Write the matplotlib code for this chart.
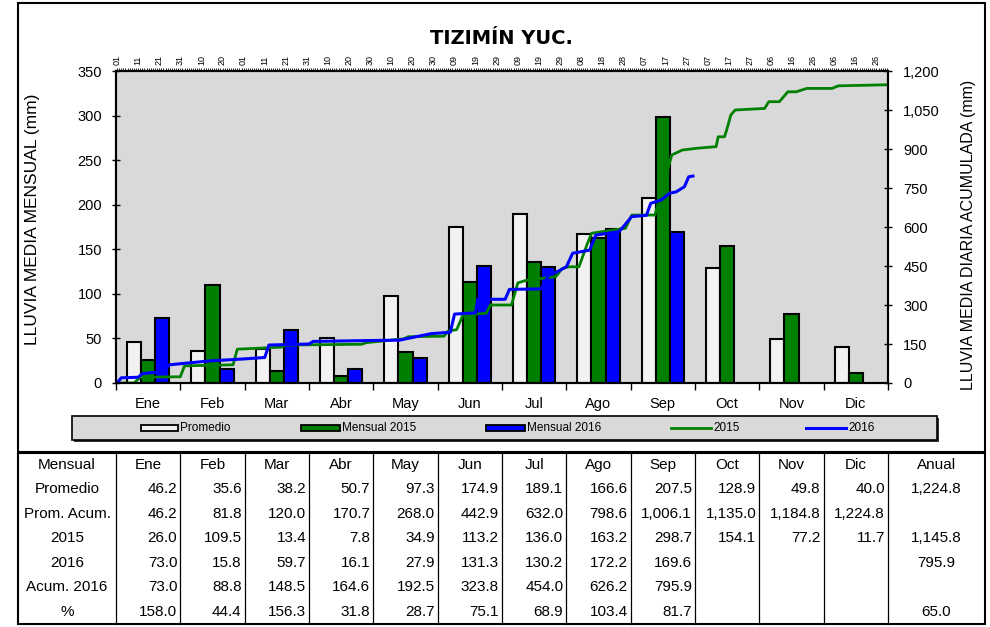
import numpy as np
import matplotlib
matplotlib.use("Agg")
import matplotlib.pyplot as plt
from matplotlib.patches import Rectangle

plt.rcParams['font.family'] = ['Liberation Sans', 'DejaVu Sans']

# datos mensuales (mm)
meses = ['Ene', 'Feb', 'Mar', 'Abr', 'May', 'Jun', 'Jul', 'Ago', 'Sep', 'Oct', 'Nov', 'Dic']
promedio = [46.2, 35.6, 38.2, 50.7, 97.3, 174.9, 189.1, 166.6, 207.5, 128.9, 49.8, 40.0]
prom_acum = [46.2, 81.8, 120.0, 170.7, 268.0, 442.9, 632.0, 798.6, 1006.1, 1135.0, 1184.8, 1224.8]
mensual_2015 = [26.0, 109.5, 13.4, 7.8, 34.9, 113.2, 136.0, 163.2, 298.7, 154.1, 77.2, 11.7]
mensual_2016 = [73.0, 15.8, 59.7, 16.1, 27.9, 131.3, 130.2, 172.2, 169.6, None, None, None]
acum_2016 = [73.0, 88.8, 148.5, 164.6, 192.5, 323.8, 454.0, 626.2, 795.9, None, None, None]
porcentaje = [158.0, 44.4, 156.3, 31.8, 28.7, 75.1, 68.9, 103.4, 81.7, None, None, None]
anual = [1224.8, None, 1145.8, 795.9, None, 65.0]

# lluvia diaria acumulada (dia del año, mm)
dias_2015 = [1, 9, 12, 31, 33, 56, 58, 79, 81, 117, 119, 137, 139, 156, 158, 162, 165, 176,
             178, 188, 191, 195, 209, 212, 215, 220, 224, 226, 242, 245, 256, 264, 269, 276,
             285, 286, 289, 290, 292, 294, 308, 310, 315, 319, 323, 328, 340, 343, 366]
lluvia_acum_2015 = [0, 0, 22, 24, 66, 70, 130, 138, 146, 149, 155, 170, 178, 180, 200, 205, 262, 268,
                    300, 300, 385, 395, 409, 440, 447, 447, 537, 576, 595, 646, 646, 877, 896, 903,
                    909, 947, 947, 973, 1031, 1050, 1056, 1082, 1082, 1120, 1120, 1133, 1133, 1143, 1147]
dias_2016 = [1, 3, 11, 13, 18, 22, 26, 32, 45, 60, 71, 73, 92, 94, 135, 150, 159, 161, 171,
             172, 185, 187, 202, 206, 209, 214, 217, 225, 228, 239, 241, 245, 252, 254, 259,
             263, 266, 270, 272, 274]
lluvia_acum_2016 = [0, 20, 22, 36, 40, 44, 70, 75, 85, 92, 98, 146, 150, 160, 165, 190, 195, 265, 270,
                    322, 322, 360, 362, 420, 425, 447, 499, 511, 569, 582, 601, 640, 645, 691, 704,
                    730, 735, 755, 793, 796]

dias_etiqueta = list(range(1, 367, 10))
etiquetas_dia = ['01', '11', '21', '31', '10', '20', '01', '11', '21', '31', '10', '20', '30',
                 '10', '20', '30', '09', '19', '29', '09', '19', '29', '08', '18', '28', '07',
                 '17', '27', '07', '17', '27', '06', '16', '26', '06', '16', '26']

W, H = 990, 627
fig = plt.figure(figsize=(W / 100, H / 100), dpi=100)

def rect_px(x0, y0, x1, y1):
    return [x0 / W, 1 - y1 / H, (x1 - x0) / W, (y1 - y0) / H]

L, R, T, B = 116, 888, 71, 383

# capa de fondo para marcos, leyenda y tabla (coordenadas en pixeles)
bg = fig.add_axes([0, 0, 1, 1])
bg.set_xlim(0, W)
bg.set_ylim(H, 0)
bg.axis('off')

# barras mensuales
ax = fig.add_axes(rect_px(L, T, R, B))
ax.set_facecolor('#D9D9D9')
x = np.arange(12)
w = 0.22
v16 = [v if v is not None else 0 for v in mensual_2016]
ax.bar(x - w, promedio, w, color='#F2F2F2', edgecolor='black', linewidth=1.5)
ax.bar(x, mensual_2015, w, color='#008000', edgecolor='black', linewidth=1.5)
ax.bar(x[:9] + w, v16[:9], w, color='#0000FF', edgecolor='black', linewidth=1.5)
ax.set_xlim(-0.5, 11.5)
ax.set_ylim(0, 350)
ax.set_xticks(np.arange(-0.5, 12, 1))
ax.set_xticklabels([])
ax.set_xticks(x, minor=True)
ax.set_xticklabels(meses, minor=True)
ax.tick_params(axis='x', which='major', direction='out', length=5, width=1)
ax.tick_params(axis='x', which='minor', length=0, pad=10, labelsize=10.5)
ax.set_yticks(range(0, 351, 50))
ax.tick_params(axis='y', direction='inout', length=6, width=1, pad=7, labelsize=10.5)
for s in ax.spines.values():
    s.set_linewidth(1.5)

# lineas acumuladas diarias
ax2 = fig.add_axes(rect_px(L, T, R, B))
ax2.patch.set_visible(False)
ax2.plot(dias_2015, lluvia_acum_2015, color='#008000', linewidth=2)
ax2.plot(dias_2016, lluvia_acum_2016, color='#0000FF', linewidth=2.2)
ax2.set_xlim(0.5, 366.5)
ax2.set_ylim(0, 1200)
ax2.xaxis.tick_top()
ax2.yaxis.tick_right()
ax2.set_xticks(dias_etiqueta)
ax2.set_xticklabels(etiquetas_dia, rotation=90, fontsize=6.5)
ax2.set_xticks(np.arange(1, 367), minor=True)
ax2.tick_params(axis='x', which='both', direction='out', length=2.5, width=0.6, pad=1.5)
ax2.set_yticks(range(0, 1201, 150))
ax2.set_yticklabels([f'{v:,}' for v in range(0, 1201, 150)])
ax2.tick_params(axis='y', direction='inout', length=6, width=1, pad=8, labelsize=10.5)
for s in ax2.spines.values():
    s.set_linewidth(1.5)

fig.text(501 / W, 1 - 38 / H, 'TIZIMÍN YUC.', family='DejaVu Sans', fontsize=14,
         fontweight='heavy', ha='center', va='center')
fig.text(33 / W, 1 - 219 / H, 'LLUVIA MEDIA MENSUAL (mm)', rotation=90,
         fontsize=12.5, ha='center', va='center')
fig.text(968 / W, 1 - 235 / H, 'LLUVIA MEDIA DIARIA ACUMULADA (mm)', rotation=90,
         fontsize=11.5, ha='center', va='center')

# marco exterior de la grafica
bg.add_patch(Rectangle((18, 3), 967, 449, fill=False, edgecolor='black', linewidth=1.5))

# leyenda
bg.add_patch(Rectangle((74, 418), 865, 24, facecolor='#333333', edgecolor='none'))
bg.add_patch(Rectangle((72, 416), 865, 24, facecolor='#D9D9D9', edgecolor='black', linewidth=1.2))
ly = 428
bg.add_patch(Rectangle((141, ly - 3), 37, 6, facecolor='#F2F2F2', edgecolor='black', linewidth=1.3))
bg.text(180, ly, 'Promedio', fontsize=8.5, va='center')
bg.add_patch(Rectangle((301, ly - 3), 39, 6, facecolor='#008000', edgecolor='black', linewidth=1.3))
bg.text(342, ly, 'Mensual 2015', fontsize=8.5, va='center')
bg.add_patch(Rectangle((486, ly - 3), 39, 6, facecolor='#0000FF', edgecolor='black', linewidth=1.3))
bg.text(527, ly, 'Mensual 2016', fontsize=8.5, va='center')
bg.plot([671, 711], [ly, ly], color='#008000', linewidth=2)
bg.text(713, ly, '2015', fontsize=8.5, va='center')
bg.plot([806, 846], [ly, ly], color='#0000FF', linewidth=2.2)
bg.text(848, ly, '2016', fontsize=8.5, va='center')

# tabla
mw = (R - L) / 12
col_edges = [18] + [L + i * mw for i in range(13)] + [985]
top, row_h = 452.5, 24.5
nrows = 7
bottom = top + row_h * nrows
bg.add_patch(Rectangle((18, top), 967, bottom - top, fill=False, edgecolor='black', linewidth=1.5))
for xe in col_edges[1:-1]:
    bg.plot([xe, xe], [top, bottom], color='black', linewidth=0.9)

fs = 11
yc = top + row_h / 2
bg.text((col_edges[0] + col_edges[1]) / 2, yc, 'Mensual', fontsize=fs, ha='center', va='center')
for i, m in enumerate(meses):
    bg.text((col_edges[i + 1] + col_edges[i + 2]) / 2, yc, m, fontsize=fs, ha='center', va='center')
bg.text((col_edges[13] + col_edges[14]) / 2, yc, 'Anual', fontsize=fs, ha='center', va='center')

filas = ['Promedio', 'Prom. Acum.', '2015', '2016', 'Acum. 2016', '%']
valores = [promedio, prom_acum, mensual_2015, mensual_2016, acum_2016, porcentaje]
for r, (nombre, vals) in enumerate(zip(filas, valores)):
    yc = top + row_h * (r + 1.5)
    bg.text((col_edges[0] + col_edges[1]) / 2, yc, nombre, fontsize=fs, ha='center', va='center')
    for i, v in enumerate(vals):
        if v is not None:
            bg.text(col_edges[i + 2] - 3, yc, f'{v:,.1f}', fontsize=fs, ha='right', va='center')
    if anual[r] is not None:
        bg.text((col_edges[13] + col_edges[14]) / 2, yc, f'{anual[r]:,.1f}', fontsize=fs,
                ha='center', va='center')

fig.savefig('out.png', dpi=100)
